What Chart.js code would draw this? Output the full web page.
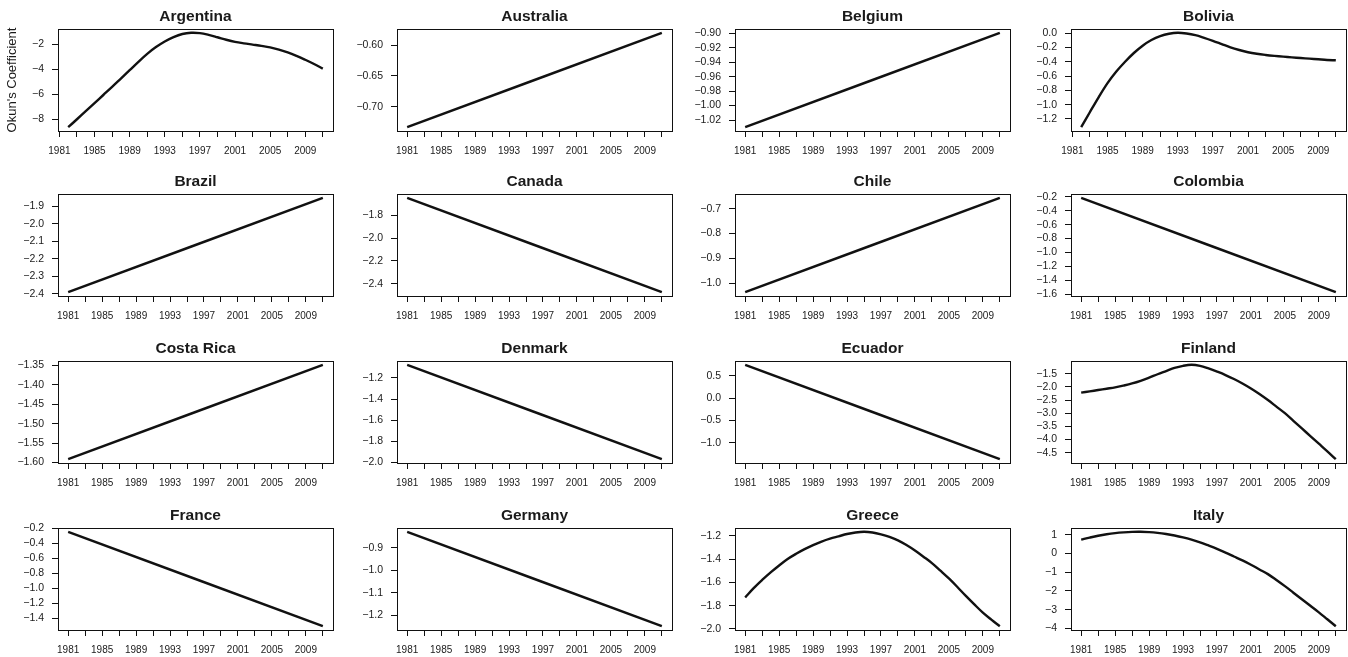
<!DOCTYPE html>
<html><head><meta charset="utf-8">
<script src="https://cdn.jsdelivr.net/npm/chart.js@4/dist/chart.umd.min.js"></script>
<style>
html,body{margin:0;padding:0;background:#fff;overflow:hidden;width:1348px;height:657px;}
#wrap{position:relative;width:1348px;height:657px;overflow:hidden;background:#fff;}
canvas{position:absolute;}
</style></head><body><div id="wrap"></div>
<script>
// ---------- data ----------
const years1981 = [1981,1982,1983,1984,1985,1986,1987,1988,1989,1990,1991,1992,1993,1994,1995,1996,1997,1998,1999,2000,2001,2002,2003,2004,2005,2006,2007,2008,2009,2010,2011];
const years1982 = [1982,1983,1984,1985,1986,1987,1988,1989,1990,1991,1992,1993,1994,1995,1996,1997,1998,1999,2000,2001,2002,2003,2004,2005,2006,2007,2008,2009,2010,2011];
const endYears = [1981, 2011];

const xTickYears = [1981,1983,1985,1987,1989,1991,1993,1995,1997,1999,2001,2003,2005,2007,2009,2011];
const xLabelYears = [1981,1985,1989,1993,1997,2001,2005,2009];

const argentina = [-8.64,-8.0,-7.35,-6.7,-6.05,-5.4,-4.73,-4.06,-3.38,-2.74,-2.2,-1.75,-1.4,-1.15,-1.05,-1.08,-1.22,-1.41,-1.61,-1.78,-1.9,-2.0,-2.1,-2.22,-2.4,-2.62,-2.9,-3.22,-3.56,-3.93];
const australia = [-0.733, -0.580];
const belgium = [-1.030, -0.899];
const bolivia = [-1.316,-1.103,-0.894,-0.70,-0.537,-0.40,-0.278,-0.176,-0.097,-0.042,-0.009,0.005,-0.005,-0.028,-0.065,-0.107,-0.153,-0.199,-0.236,-0.267,-0.289,-0.305,-0.318,-0.329,-0.339,-0.348,-0.357,-0.366,-0.375,-0.38];
const brazil = [-2.390, -1.853];
const canada = [-1.646, -2.475];
const chile = [-1.036, -0.656];
const colombia = [-0.214, -1.571];
const costaRica = [-1.5915, -1.348];
const denmark = [-1.075, -1.969];
const ecuador = [0.743, -1.368];
const finland = [-2.22,-2.17,-2.12,-2.07,-2.02,-1.95,-1.87,-1.77,-1.65,-1.52,-1.40,-1.28,-1.20,-1.16,-1.20,-1.30,-1.42,-1.55,-1.70,-1.87,-2.06,-2.27,-2.50,-2.75,-3.0,-3.29,-3.58,-3.87,-4.16,-4.45,-4.75];
const france = [-0.244, -1.510];
const germany = [-0.828, -1.248];
const greece = [-1.73,-1.65,-1.58,-1.515,-1.455,-1.40,-1.355,-1.315,-1.28,-1.25,-1.225,-1.205,-1.185,-1.172,-1.166,-1.172,-1.188,-1.21,-1.24,-1.28,-1.327,-1.38,-1.435,-1.50,-1.567,-1.64,-1.717,-1.79,-1.86,-1.92,-1.977];
const italy = [0.74,0.85,0.95,1.03,1.09,1.13,1.155,1.16,1.14,1.10,1.04,0.96,0.86,0.74,0.60,0.43,0.25,0.05,-0.16,-0.37,-0.60,-0.85,-1.10,-1.41,-1.74,-2.09,-2.44,-2.79,-3.14,-3.51,-3.88];

const argentinaTicks = [-8,-6,-4,-2];
const australiaTicks = [-0.70,-0.65,-0.60];
const belgiumTicks = [-1.02,-1.00,-0.98,-0.96,-0.94,-0.92,-0.90];
const boliviaTicks = [-1.2,-1.0,-0.8,-0.6,-0.4,-0.2,0.0];
const brazilTicks = [-2.4,-2.3,-2.2,-2.1,-2.0,-1.9];
const canadaTicks = [-2.4,-2.2,-2.0,-1.8];
const chileTicks = [-1.0,-0.9,-0.8,-0.7];
const colombiaTicks = [-1.6,-1.4,-1.2,-1.0,-0.8,-0.6,-0.4,-0.2];
const costaRicaTicks = [-1.60,-1.55,-1.50,-1.45,-1.40,-1.35];
const denmarkTicks = [-2.0,-1.8,-1.6,-1.4,-1.2];
const ecuadorTicks = [-1.0,-0.5,0.0,0.5];
const finlandTicks = [-4.5,-4.0,-3.5,-3.0,-2.5,-2.0,-1.5];
const franceTicks = [-1.4,-1.2,-1.0,-0.8,-0.6,-0.4,-0.2];
const germanyTicks = [-1.2,-1.1,-1.0,-0.9];
const greeceTicks = [-2.0,-1.8,-1.6,-1.4,-1.2];
const italyTicks = [-4,-3,-2,-1,0,1];

const countries = ['Argentina','Australia','Belgium','Bolivia','Brazil','Canada','Chile','Colombia','Costa Rica','Denmark','Ecuador','Finland','France','Germany','Greece','Italy'];
const seriesX = [years1982,endYears,endYears,years1982,endYears,endYears,endYears,endYears,endYears,endYears,endYears,years1981,endYears,endYears,years1981,years1981];
const seriesY = [argentina,australia,belgium,bolivia,brazil,canada,chile,colombia,costaRica,denmark,ecuador,finland,france,germany,greece,italy];
const yTicks = [argentinaTicks,australiaTicks,belgiumTicks,boliviaTicks,brazilTicks,canadaTicks,chileTicks,colombiaTicks,costaRicaTicks,denmarkTicks,ecuadorTicks,finlandTicks,franceTicks,germanyTicks,greeceTicks,italyTicks];
const yDecimals = [0,2,2,1,1,1,1,1,2,1,1,1,1,1,1,0];
const yAxisTitle = "Okun's Coefficient";

// ---------- layout ----------
const CELL_W = 337, CELL_H = 166;
const BOX_L = 58, BOX_T = 29, BOX_W = 275, BOX_H = 102;
const colLeft = [0, 339, 677, 1013];
const rowTop = [0, 165, 332, 499];
const FONT = "'Liberation Sans', Arial, Helvetica, sans-serif";
const INK = '#1a1a1a';

function padRange(arr) {
  let lo = Math.min(...arr), hi = Math.max(...arr);
  const r = hi - lo;
  return [lo - 0.04 * r, hi + 0.04 * r];
}
function fmt(v, d) {
  return v.toFixed(d).replace('-', '\u2212');
}

const boxPlugin = {
  id: 'box',
  afterDraw(chart) {
    const a = chart.chartArea, c = chart.ctx;
    c.save();
    c.strokeStyle = '#111';
    c.lineWidth = 1;
    c.strokeRect(Math.round(a.left) + 0.5, Math.round(a.top) + 0.5, Math.round(a.right - a.left), Math.round(a.bottom - a.top));
    c.restore();
  }
};

const wrap = document.getElementById('wrap');
countries.forEach((name, i) => {
  const col = i % 4, row = Math.floor(i / 4);
  const cv = document.createElement('canvas');
  cv.width = CELL_W; cv.height = CELL_H;
  cv.style.left = colLeft[col] + 'px';
  cv.style.top = rowTop[row] + 'px';
  cv.style.width = CELL_W + 'px'; cv.style.height = CELL_H + 'px';
  wrap.appendChild(cv);

  const xs = seriesX[i], ys = seriesY[i];
  const [xmin, xmax] = padRange(xs);
  const [ymin, ymax] = padRange(ys);
  const ticks = yTicks[i], dec = yDecimals[i];

  new Chart(cv, {
    type: 'line',
    data: {
      datasets: [{
        data: xs.map((x, k) => ({ x: x, y: ys[k] })),
        borderColor: '#111',
        borderWidth: 2.4,
        pointRadius: 0,
        fill: false,
        tension: 0.35
      }]
    },
    options: {
      responsive: false,
      animation: false,
      devicePixelRatio: 1,
      layout: { padding: { left: 0, right: CELL_W - BOX_L - BOX_W, top: 0, bottom: 0 } },
      plugins: {
        legend: { display: false },
        tooltip: { enabled: false },
        title: {
          display: true, text: name, fullSize: false,
          color: INK,
          font: { family: FONT, size: 15.5, weight: 'bold', lineHeight: 1.2 },
          padding: { top: 7, bottom: 3.4 }
        }
      },
      scales: {
        x: {
          type: 'linear', min: xmin, max: xmax,
          afterBuildTicks(s) { s.ticks = xTickYears.map(v => ({ value: v })); },
          afterFit(s) { s.height = CELL_H - BOX_T - BOX_H; },
          ticks: {
            autoSkip: false, maxRotation: 0, minRotation: 0,
            color: INK, padding: 8,
            font: { family: FONT, size: 10 },
            callback(v) { return xLabelYears.includes(v) ? String(v) : ''; }
          },
          grid: { display: true, drawOnChartArea: false, drawTicks: true, tickLength: 6, color: '#111', lineWidth: 1 },
          border: { display: false }
        },
        y: {
          type: 'linear', min: ymin, max: ymax,
          afterBuildTicks(s) { s.ticks = ticks.map(v => ({ value: v })); },
          afterFit(s) { s.width = BOX_L; },
          ticks: {
            autoSkip: false, color: INK, padding: 8,
            font: { family: FONT, size: 10.5 },
            callback(v) { return fmt(v, dec); }
          },
          grid: { display: true, drawOnChartArea: false, drawTicks: true, tickLength: 6, color: '#111', lineWidth: 1 },
          border: { display: false },
          title: {
            display: i === 0, text: yAxisTitle, color: INK,
            font: { family: FONT, size: 13 },
            padding: { top: 5, bottom: 0 }
          }
        }
      }
    },
    plugins: [boxPlugin]
  });
});
</script>
</body></html>
